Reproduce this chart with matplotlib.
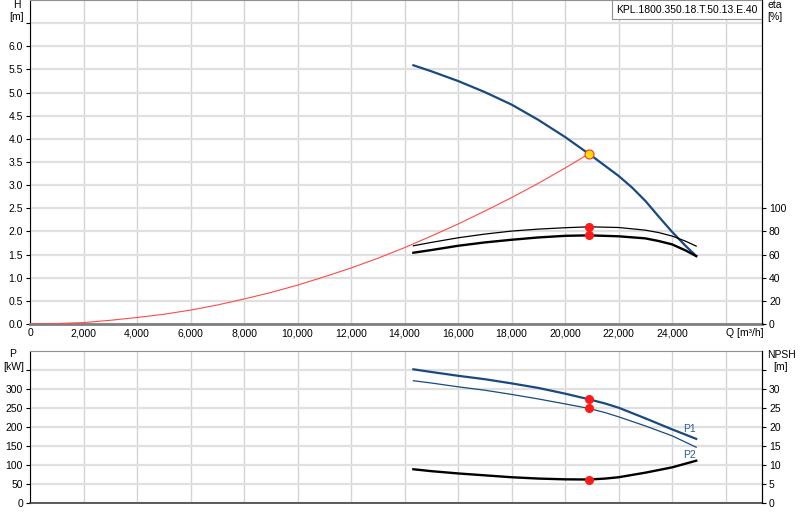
import numpy as np
import matplotlib
matplotlib.use('Agg')
from matplotlib import pyplot as plt

plt.rcParams['font.family'] = ['Liberation Sans', 'DejaVu Sans']
plt.rcParams['font.size'] = 7.5

# pump curve (H)
q_pump = [14330, 15000, 16000, 17000, 18000, 19000, 20000, 21000, 22000,
          22500, 23000, 23500, 24000, 24500, 24900]
h_pump = [5.59, 5.46, 5.25, 5.01, 4.74, 4.41, 4.04, 3.63, 3.20,
          2.95, 2.66, 2.32, 1.99, 1.69, 1.47]

# system curve
q_sys = [0, 1000, 2000, 3000, 4000, 5000, 6000, 7000, 8000, 9000, 10000,
         11000, 12000, 13000, 14000, 15000, 16000, 17000, 18000, 19000, 20000, 20900]
h_sys = [0.0, 0.01, 0.03, 0.08, 0.14, 0.21, 0.30, 0.41, 0.54, 0.68, 0.84,
         1.02, 1.21, 1.42, 1.65, 1.90, 2.16, 2.44, 2.73, 3.04, 3.37, 3.68]

# efficiencies
q_eta = [14330, 15000, 16000, 17000, 18000, 19000, 20000, 20900, 22000,
         23000, 23500, 24000, 24500, 24900]
eta_thin = [67.6, 70.5, 74.5, 77.7, 80.3, 82.0, 83.2, 84.0, 83.4,
            81.1, 79.0, 76.0, 71.6, 67.3]
eta_thick = [61.6, 63.9, 67.6, 70.5, 72.8, 74.8, 76.2, 76.6, 75.8,
             74.0, 71.7, 68.8, 63.6, 58.7]

# power and NPSH
q_low = [14330, 15000, 16000, 17000, 18000, 19000, 20000, 20900, 21500, 22000,
         23000, 24000, 24900]
p1 = [351, 344, 334, 325, 314, 302, 287, 272, 261, 250, 222, 193, 168]
p2 = [321, 315, 305, 296, 285, 273, 260, 248, 237, 226, 202, 176, 146]
npsh = [8.8, 8.3, 7.7, 7.2, 6.7, 6.35, 6.15, 6.1, 6.35, 6.7, 7.9, 9.3, 11.05]

q_op = 20900
h_op = 3.68
eta_op = [84.0, 76.6]
p_op = [272, 248]
npsh_op = 6.1

title = 'KPL.1800.350.18.T.50.13.E.40'

blue = '#184a80'
grid_c = '#d4d4d4'
W, H = 800, 520

fig = plt.figure(figsize=(8, 5.2), dpi=100)
ax = fig.add_axes([30/W, 1-324/H, 732/W, 324/H])
ax2 = ax.twinx()
axl = fig.add_axes([30/W, 1-502.7/H, 732/W, 152/H])
axl2 = axl.twinx()

xmax = 27360
xt = np.arange(0, 26001, 2000)
for a in (ax, axl):
    a.set_xlim(0, xmax)
    a.set_xticks(xt)
    a.grid(True, axis='x', color=grid_c, lw=1.0)
    a.grid(True, axis='y', color='#e0e0e0', lw=1.6)
    a.set_axisbelow(True)
    a.spines['left'].set_color('black')
    a.spines['top'].set_color('#909090')
    a.tick_params(axis='y', length=3, width=0.8, pad=2, labelsize=7.5)
    a.tick_params(axis='x', length=0, pad=3, labelsize=7.5)

# upper chart
ax.set_ylim(0, 7)
ax.set_yticks(np.arange(0, 6.51, 0.5))
ax.set_yticklabels(['%.1f' % v for v in np.arange(0, 6.01, 0.5)] + [''])
ax.set_xticklabels(['{:,}'.format(v) for v in xt[:-1]] + ['Q [m³/h]'])
ax.get_xticklabels()[-1].set_ha('left')
ax.spines['bottom'].set_color('#808080')
ax.spines['bottom'].set_linewidth(2)

ax.plot(q_sys, h_sys, color='#ff4a4a', lw=0.8, zorder=3)
ax.plot(q_pump, h_pump, color=blue, lw=1.6, zorder=4)
ax.plot(q_op, h_op, 'o', ms=6.5, mfc='#ffe000', mec='#ff3030', mew=0.8, zorder=6)

ax2.set_ylim(0, 280)
ax2.set_yticks(np.arange(0, 101, 20))
ax2.tick_params(axis='y', length=3, width=0.8, pad=2, labelsize=7.5)
ax2.spines['right'].set_color('black')
for s in ('top', 'bottom', 'left'):
    ax2.spines[s].set_visible(False)
ax2.plot(q_eta, eta_thin, color='black', lw=0.9, zorder=4)
ax2.plot(q_eta, eta_thick, color='black', lw=1.7, zorder=4)
ax2.plot([q_op, q_op], eta_op, 'o', ms=5.5, color='#ff1a1a', zorder=6)

ax.text(0.994, 0.986, title, transform=ax.transAxes, ha='right', va='top', fontsize=7.5,
        bbox=dict(boxstyle='square,pad=0.45', fc='white', ec='#909090', lw=0.8), zorder=10)

# axis titles
fig.text(17/W, 1-5/H, 'H', ha='center', va='center')
fig.text(17/W, 1-17/H, '[m]', ha='center', va='center')
fig.text(775/W, 1-5/H, 'eta', ha='center', va='center')
fig.text(775/W, 1-17/H, '[%]', ha='center', va='center')
fig.text(13/W, 1-354/H, 'P', ha='center', va='center')
fig.text(14/W, 1-367/H, '[kW]', ha='center', va='center')
fig.text(782/W, 1-355/H, 'NPSH', ha='center', va='center')
fig.text(781/W, 1-367/H, '[m]', ha='center', va='center')

# lower chart
axl.set_ylim(0, 400)
axl.set_yticks(np.arange(0, 351, 50))
axl.set_yticklabels([str(v) for v in range(0, 301, 50)] + [''])
axl.set_xticklabels([])
axl.spines['bottom'].set_color('#404040')
axl.spines['bottom'].set_linewidth(1.2)

axl.plot(q_low, p1, color=blue, lw=1.6, zorder=4)
axl.plot(q_low, p2, color=blue, lw=0.9, zorder=4)
axl.plot([q_op, q_op], p_op, 'o', ms=5.5, color='#ff1a1a', zorder=6)
axl.text(q_low[-1] - 250, p1[-1] + 12, 'P1', color='#2a5a9a', fontsize=7.5,
         ha='center', va='bottom')
axl.text(q_low[-1] - 250, p2[-1] - 8, 'P2', color='#2a5a9a', fontsize=7.5,
         ha='center', va='top')

axl2.set_ylim(0, 40)
axl2.set_yticks(np.arange(0, 36, 5))
axl2.set_yticklabels([str(v) for v in range(0, 31, 5)] + [''])
axl2.tick_params(axis='y', length=3, width=0.8, pad=2, labelsize=7.5)
axl2.spines['right'].set_color('black')
for s in ('top', 'bottom', 'left'):
    axl2.spines[s].set_visible(False)
axl2.plot(q_low, npsh, color='black', lw=1.7, zorder=4)
axl2.plot(q_op, npsh_op, 'o', ms=5.5, color='#ff1a1a', zorder=6)

fig.savefig('out.png', dpi=100)
